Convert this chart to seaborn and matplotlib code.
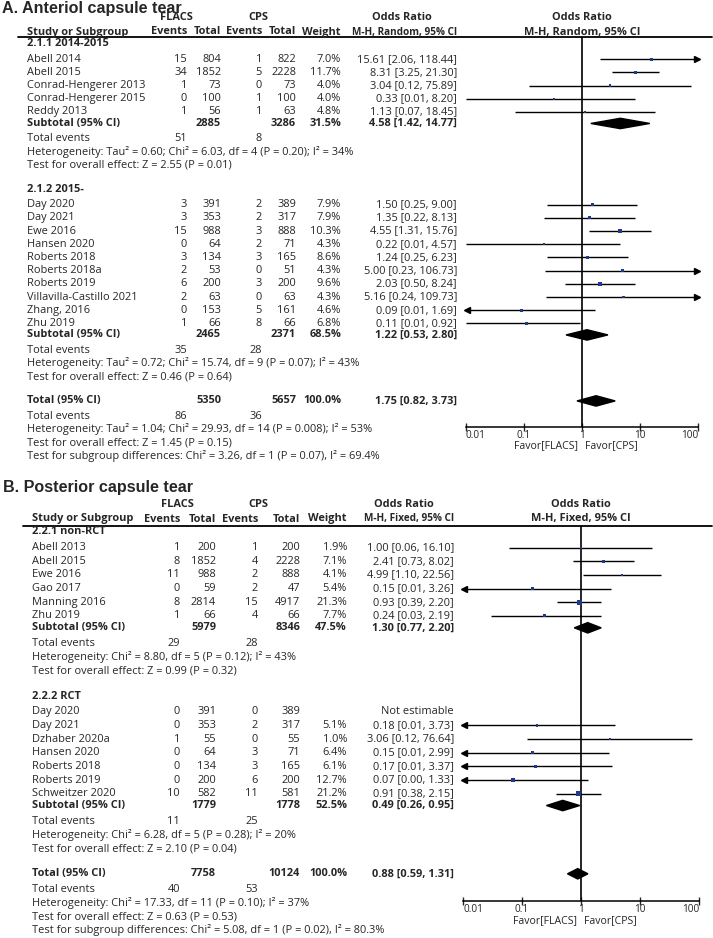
import numpy as np
import pandas as pd
import matplotlib
matplotlib.use("Agg")
import matplotlib.pyplot as plt
from matplotlib.lines import Line2D
from matplotlib.patches import Polygon
from matplotlib.ticker import NullLocator
import seaborn as sns

# ---------------- A. anterior capsule tear ----------------
a1_names = ["Abell 2014", "Abell 2015", "Conrad-Hengerer 2013", "Conrad-Hengerer 2015", "Reddy 2013"]
a1_flacs_ev = [15, 34, 1, 0, 1]
a1_flacs_n = [804, 1852, 73, 100, 56]
a1_cps_ev = [1, 5, 0, 1, 1]
a1_cps_n = [822, 2228, 73, 100, 63]
a1_weight = [7.0, 11.7, 4.0, 4.0, 4.8]
a1_or = [15.61, 8.31, 3.04, 0.33, 1.13]
a1_lo = [2.06, 3.25, 0.12, 0.01, 0.07]
a1_hi = [118.44, 21.30, 75.89, 8.20, 18.45]
a1_sub_n = [2885, 3286]
a1_sub_w = 31.5
a1_sub_or = [4.58, 1.42, 14.77]
a1_events = [51, 8]
a1_het = "Heterogeneity: Tau² = 0.60; Chi² = 6.03, df = 4 (P = 0.20); I² = 34%"
a1_z = "Test for overall effect: Z = 2.55 (P = 0.01)"

a2_names = ["Day 2020", "Day 2021", "Ewe 2016", "Hansen 2020", "Roberts 2018", "Roberts 2018a",
            "Roberts 2019", "Villavilla-Castillo 2021", "Zhang, 2016", "Zhu 2019"]
a2_flacs_ev = [3, 3, 15, 0, 3, 2, 6, 2, 0, 1]
a2_flacs_n = [391, 353, 988, 64, 134, 53, 200, 63, 153, 66]
a2_cps_ev = [2, 2, 3, 2, 3, 0, 3, 0, 5, 8]
a2_cps_n = [389, 317, 888, 71, 165, 51, 200, 63, 161, 66]
a2_weight = [7.9, 7.9, 10.3, 4.3, 8.6, 4.3, 9.6, 4.3, 4.6, 6.8]
a2_or = [1.50, 1.35, 4.55, 0.22, 1.24, 5.00, 2.03, 5.16, 0.09, 0.11]
a2_lo = [0.25, 0.22, 1.31, 0.01, 0.25, 0.23, 0.50, 0.24, 0.0096, 0.01]
a2_hi = [9.00, 8.13, 15.76, 4.57, 6.23, 106.73, 8.24, 109.73, 1.69, 0.92]
a2_sub_n = [2465, 2371]
a2_sub_w = 68.5
a2_sub_or = [1.22, 0.53, 2.80]
a2_events = [35, 28]
a2_het = "Heterogeneity: Tau² = 0.72; Chi² = 15.74, df = 9 (P = 0.07); I² = 43%"
a2_z = "Test for overall effect: Z = 0.46 (P = 0.64)"

a_tot_n = [5350, 5657]
a_tot_or = [1.75, 0.82, 3.73]
a_tot_events = [86, 36]
a_tot_text = ["Heterogeneity: Tau² = 1.04; Chi² = 29.93, df = 14 (P = 0.008); I² = 53%",
              "Test for overall effect: Z = 1.45 (P = 0.15)",
              "Test for subgroup differences: Chi² = 3.26, df = 1 (P = 0.07), I² = 69.4%"]

# ---------------- B. posterior capsule tear ----------------
b1_names = ["Abell 2013", "Abell 2015", "Ewe 2016", "Gao 2017", "Manning 2016", "Zhu 2019"]
b1_flacs_ev = [1, 8, 11, 0, 8, 1]
b1_flacs_n = [200, 1852, 988, 59, 2814, 66]
b1_cps_ev = [1, 4, 2, 2, 15, 4]
b1_cps_n = [200, 2228, 888, 47, 4917, 66]
b1_weight = [1.9, 7.1, 4.1, 5.4, 21.3, 7.7]
b1_or = [1.00, 2.41, 4.99, 0.15, 0.93, 0.24]
b1_lo = [0.06, 0.73, 1.10, 0.0095, 0.39, 0.03]
b1_hi = [16.10, 8.02, 22.56, 3.26, 2.20, 2.19]
b1_sub_n = [5979, 8346]
b1_sub_w = 47.5
b1_sub_or = [1.30, 0.77, 2.20]
b1_events = [29, 28]
b1_het = "Heterogeneity: Chi² = 8.80, df = 5 (P = 0.12); I² = 43%"
b1_z = "Test for overall effect: Z = 0.99 (P = 0.32)"

b2_names = ["Day 2020", "Day 2021", "Dzhaber 2020a", "Hansen 2020", "Roberts 2018", "Roberts 2019",
            "Schweitzer 2020"]
b2_flacs_ev = [0, 0, 1, 0, 0, 0, 10]
b2_flacs_n = [391, 353, 55, 64, 134, 200, 582]
b2_cps_ev = [0, 2, 0, 3, 3, 6, 11]
b2_cps_n = [389, 317, 55, 71, 165, 200, 581]
b2_weight = [np.nan, 5.1, 1.0, 6.4, 6.1, 12.7, 21.2]
b2_or = [np.nan, 0.18, 3.06, 0.15, 0.17, 0.07, 0.91]
b2_lo = [np.nan, 0.0095, 0.12, 0.0095, 0.0095, 0.004, 0.38]
b2_hi = [np.nan, 3.73, 76.64, 2.99, 3.37, 1.33, 2.15]
b2_sub_n = [1779, 1778]
b2_sub_w = 52.5
b2_sub_or = [0.49, 0.26, 0.95]
b2_events = [11, 25]
b2_het = "Heterogeneity: Chi² = 6.28, df = 5 (P = 0.28); I² = 20%"
b2_z = "Test for overall effect: Z = 2.10 (P = 0.04)"

b_tot_n = [7758, 10124]
b_tot_or = [0.88, 0.59, 1.31]
b_tot_events = [40, 53]
b_tot_text = ["Heterogeneity: Chi² = 17.33, df = 11 (P = 0.10); I² = 37%",
              "Test for overall effect: Z = 0.63 (P = 0.53)",
              "Test for subgroup differences: Chi² = 5.08, df = 1 (P = 0.02), I² = 80.3%"]

W, H = 713, 938
FS = 7.9
SQ_COLOR = "#1f3a8a"

sns.set_theme(style="white")
plt.rcParams["font.family"] = ["Open Sans", "DejaVu Sans"]

fig = plt.figure(figsize=(W / 100, H / 100), dpi=100)


def put(x, y, s, ha="left", bold=False, size=FS, family=None):
    kw = {"family": family} if family else {}
    fig.text(x / W, 1 - y / H, s, ha=ha, va="center", fontsize=size,
             fontweight="bold" if bold else "normal", **kw)


def ci_text(est, lo, hi):
    return f"{est:.2f} [{lo:.2f}, {hi:.2f}]"


def group(label, names, e1, n1, e2, n2, w, est, lo, hi, sub_n, sub_w, sub_or, events, het, z):
    return dict(label=label, names=names, e1=e1, n1=n1, e2=e2, n2=n2, w=w, est=est, lo=lo, hi=hi,
                sub_n=sub_n, sub_w=sub_w, sub_or=sub_or, events=events, het=het, z=z)


def draw_panel(p):
    c = p["cols"]
    step = p["step"]
    x0, x1 = p["forest"]
    x_one = (x0 + x1) / 2

    put(p["title_x"], p["title_y"], p["title"], size=11.6, bold=True, family="Liberation Sans")
    put(c["flacs"], p["hdr1_y"], "FLACS", ha="center", bold=True)
    put(c["cps"], p["hdr1_y"], "CPS", ha="center", bold=True)
    put(c["orh"], p["hdr1_y"], "Odds Ratio", ha="center", bold=True)
    put(c["name"], p["hdr2_y"], "Study or Subgroup", bold=True)
    for key, lab in [("e1", "Events"), ("n1", "Total"), ("e2", "Events"), ("n2", "Total"), ("w", "Weight")]:
        put(c[key], p["hdr2_y"], lab, ha="right", bold=True)
    put(c["or"], p["hdr2_y"], p["method"], ha="right", bold=True, size=FS - 0.7)
    put(x_one, p["hdr1_y"], "Odds Ratio", ha="center", bold=True)
    put(x_one, p["hdr2_y"], p["method"], ha="center", bold=True)
    fig.add_artist(Line2D([c["rule"] / W, 712 / W], [1 - p["rule_y"] / H] * 2, color="black", lw=1.3))

    rows, diamonds = [], []
    y = p["group_y"]
    for g in p["groups"]:
        put(c["name"], y, g["label"], bold=True)
        y += 1.15 * step
        for i, name in enumerate(g["names"]):
            put(c["name"], y, name)
            put(c["e1"], y, str(g["e1"][i]), ha="right")
            put(c["n1"], y, str(g["n1"][i]), ha="right")
            put(c["e2"], y, str(g["e2"][i]), ha="right")
            put(c["n2"], y, str(g["n2"][i]), ha="right")
            if np.isnan(g["est"][i]):
                put(c["or"], y, "Not estimable", ha="right")
            else:
                put(c["w"], y, f"{g['w'][i]:.1f}%", ha="right")
                put(c["or"], y, ci_text(g["est"][i], g["lo"][i], g["hi"][i]), ha="right")
                rows.append(dict(y=y, est=g["est"][i], lo=g["lo"][i], hi=g["hi"][i], weight=g["w"][i]))
            y += step
        y += -step + 0.87 * step
        put(c["name"], y, "Subtotal (95% CI)", bold=True)
        put(c["n1"], y, str(g["sub_n"][0]), ha="right", bold=True)
        put(c["n2"], y, str(g["sub_n"][1]), ha="right", bold=True)
        put(c["w"], y, f"{g['sub_w']:.1f}%", ha="right", bold=True)
        put(c["or"], y, ci_text(*g["sub_or"]), ha="right", bold=True)
        diamonds.append((y, *g["sub_or"]))
        y += 1.15 * step
        put(c["name"], y, "Total events")
        put(c["e1"], y, str(g["events"][0]), ha="right")
        put(c["e2"], y, str(g["events"][1]), ha="right")
        y += step
        put(c["name"], y, g["het"])
        y += step
        put(c["name"], y, g["z"])
        y += 1.85 * step

    total_y = y
    put(c["name"], y, "Total (95% CI)", bold=True)
    put(c["n1"], y, str(p["tot_n"][0]), ha="right", bold=True)
    put(c["n2"], y, str(p["tot_n"][1]), ha="right", bold=True)
    put(c["w"], y, "100.0%", ha="right", bold=True)
    put(c["or"], y, ci_text(*p["tot_or"]), ha="right", bold=True)
    diamonds.append((y, *p["tot_or"]))
    y += 1.15 * step
    put(c["name"], y, "Total events")
    put(c["e1"], y, str(p["tot_events"][0]), ha="right")
    put(c["e2"], y, str(p["tot_events"][1]), ha="right")
    for line in p["tot_text"]:
        y += step
        put(c["name"], y, line)

    # forest plot area, y in pixel rows
    top = p["rule_y"]
    bot = total_y + 2.0 * step
    ax = fig.add_axes([x0 / W, 1 - bot / H, (x1 - x0) / W, (bot - top) / H])
    ax.set_xscale("log")
    df = pd.DataFrame(rows)
    for r in df.itertuples():
        ax.hlines(r.y, max(r.lo, 0.01), min(r.hi, 100), color="black", lw=1.0, zorder=2)
        if r.lo < 0.01:
            ax.plot(0.0105, r.y, marker="<", ms=4, color="black", clip_on=False, zorder=3)
        if r.hi > 100:
            ax.plot(95, r.y, marker=">", ms=4, color="black", clip_on=False, zorder=3)
    sns.scatterplot(data=df, x="est", y="y", size="weight", sizes=(1.5, 12), size_norm=(1, 22),
                    marker="s", color=SQ_COLOR, linewidth=0, legend=False, ax=ax, zorder=4)
    for dy, est, lo, hi in diamonds:
        ax.add_patch(Polygon([(lo, dy), (est, dy - 5.2), (hi, dy), (est, dy + 5.2)],
                             closed=True, color="black", zorder=5))
    ax.axvline(1, color="black", lw=1.2, zorder=1)
    ax.set_xlim(0.01, 100)
    ax.set_ylim(bot, top)
    ax.set_xlabel("")
    ax.set_ylabel("")
    ax.set_yticks([])
    ax.set_xticks([0.01, 0.1, 1, 10, 100])
    ax.set_xticklabels(["0.01", "0.1", "1", "10", "100"])
    ax.xaxis.set_minor_locator(NullLocator())
    ax.tick_params(axis="x", direction="inout", length=6, width=1, labelsize=7.2, pad=-1, bottom=True)
    labels = ax.get_xticklabels()
    labels[0].set_ha("left")
    labels[-1].set_ha("right")
    for side in ["left", "right", "top"]:
        ax.spines[side].set_visible(False)
    ax.spines["bottom"].set_color("black")
    ax.spines["bottom"].set_linewidth(1.1)
    ax.patch.set_alpha(0)

    put(x_one - 4, bot + p["favor_dy"], "Favor[FLACS]", ha="right", size=7.6)
    put(x_one + 3, bot + p["favor_dy"], "Favor[CPS]", ha="left", size=7.6)


panel_a = dict(
    title="A. Anteriol capsule tear", title_x=2, title_y=8.5, hdr1_y=18, hdr2_y=32, rule_y=37.5,
    group_y=44, step=13.2, method="M-H, Random, 95% CI", forest=(466, 698), favor_dy=18.5,
    cols=dict(name=27, e1=187, n1=221, e2=262, n2=296, w=341, or_=457, flacs=176, cps=258, orh=402, rule=18),
    groups=[group("2.1.1 2014-2015", a1_names, a1_flacs_ev, a1_flacs_n, a1_cps_ev, a1_cps_n, a1_weight,
                  a1_or, a1_lo, a1_hi, a1_sub_n, a1_sub_w, a1_sub_or, a1_events, a1_het, a1_z),
            group("2.1.2 2015-", a2_names, a2_flacs_ev, a2_flacs_n, a2_cps_ev, a2_cps_n, a2_weight,
                  a2_or, a2_lo, a2_hi, a2_sub_n, a2_sub_w, a2_sub_or, a2_events, a2_het, a2_z)],
    tot_n=a_tot_n, tot_or=a_tot_or, tot_events=a_tot_events, tot_text=a_tot_text)
panel_a["cols"]["or"] = panel_a["cols"].pop("or_")

panel_b = dict(
    title="B. Posterior capsule tear", title_x=3, title_y=487, hdr1_y=504, hdr2_y=519, rule_y=526,
    group_y=532, step=13.65, method="M-H, Fixed, 95% CI", forest=(463, 699), favor_dy=20,
    cols=dict(name=32, e1=180, n1=216, e2=258, n2=300, w=347, or_=454, flacs=177, cps=258, orh=404, rule=23),
    groups=[group("2.2.1 non-RCT", b1_names, b1_flacs_ev, b1_flacs_n, b1_cps_ev, b1_cps_n, b1_weight,
                  b1_or, b1_lo, b1_hi, b1_sub_n, b1_sub_w, b1_sub_or, b1_events, b1_het, b1_z),
            group("2.2.2 RCT", b2_names, b2_flacs_ev, b2_flacs_n, b2_cps_ev, b2_cps_n, b2_weight,
                  b2_or, b2_lo, b2_hi, b2_sub_n, b2_sub_w, b2_sub_or, b2_events, b2_het, b2_z)],
    tot_n=b_tot_n, tot_or=b_tot_or, tot_events=b_tot_events, tot_text=b_tot_text)
panel_b["cols"]["or"] = panel_b["cols"].pop("or_")

draw_panel(panel_a)
draw_panel(panel_b)

fig.savefig("out.png", dpi=100)
